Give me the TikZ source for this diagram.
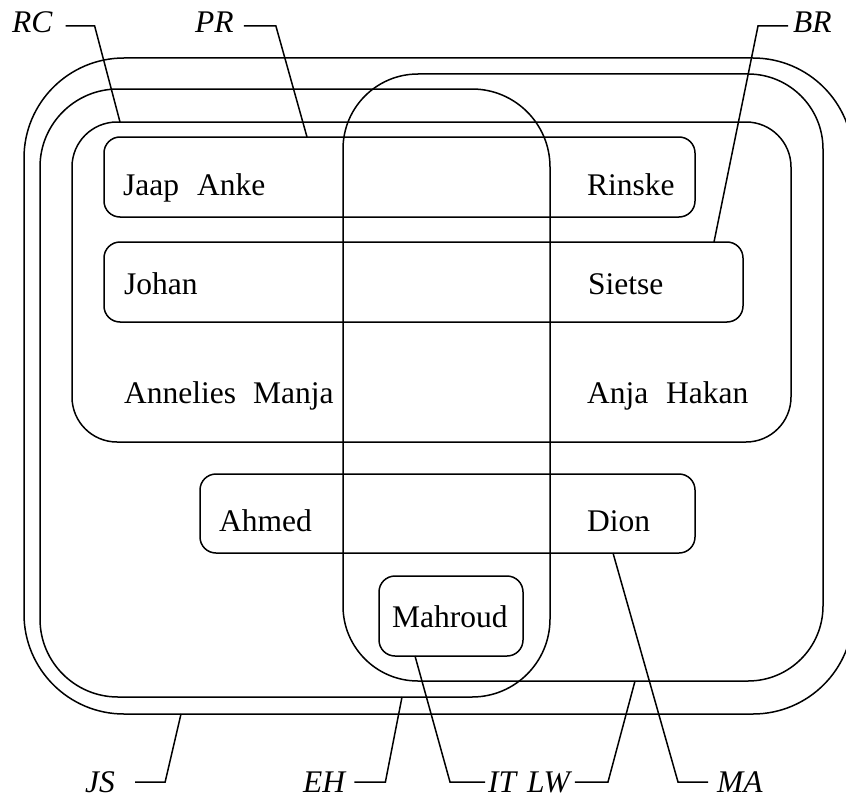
\documentclass[tikz,border=0pt]{standalone}
\usepackage{fontspec}
\setmainfont{Liberation Serif}
\usetikzlibrary{calc}

\begin{document}
\begin{tikzpicture}[x=1pt, y=-1pt,
  set/.style={draw, line width=1.5pt, inner sep=0pt, outer sep=0pt},
  elem/.style={anchor=base west, inner sep=0pt, font=\fontsize{31.5pt}{36pt}\selectfont},
  tag/.style={anchor=base west, inner sep=0pt, font=\fontsize{31.5pt}{36pt}\selectfont\itshape},
  lead/.style={line width=1.5pt}
]
  \useasboundingbox (0,0) rectangle (846,800);

  \node[set, rounded corners=100pt, minimum width=829pt, minimum height=656pt] (js) at (438.5,386) {};
  \node[set, rounded corners=78pt,  minimum width=510pt, minimum height=608pt] (eh) at (295,393)   {};
  \node[set, rounded corners=75pt,  minimum width=480pt, minimum height=607pt] (lw) at (583,377.5) {};
  \node[set, rounded corners=45pt,  minimum width=719pt, minimum height=320pt] (rc) at (431.5,282) {};
  \node[set, rounded corners=16pt,  minimum width=591pt, minimum height=80pt]  (pr) at (399.5,177) {};
  \node[set, rounded corners=16pt,  minimum width=639pt, minimum height=80pt]  (br) at (423.5,282) {};
  \node[set, rounded corners=16pt,  minimum width=495pt, minimum height=79pt]  (ma) at (447.5,513.5) {};
  \node[set, rounded corners=16pt,  minimum width=144pt, minimum height=80pt]  (it) at (451,616)   {};

  \node[elem] (jaap)     at (123,195) {Jaap};
  \node[elem] (anke)     at (197,195) {Anke};
  \node[elem] (rinske)   at (587,195) {Rinske};
  \node[elem] (johan)    at (124,294) {Johan};
  \node[elem] (sietse)   at (588,294) {Sietse};
  \node[elem] (annelies) at (124,403) {Annelies};
  \node[elem] (manja)    at (253,403) {Manja};
  \node[elem] (anja)     at (587,403) {Anja};
  \node[elem] (hakan)    at (666,403) {Hakan};
  \node[elem] (ahmed)    at (219,531) {Ahmed};
  \node[elem] (dion)     at (587,531) {Dion};
  \node[elem] (mahroud)  at (392,627) {Mahroud};

  \node[tag] (lrc) at (12,33)  {RC};
  \node[tag] (lpr) at (195,33) {PR};
  \node[tag] (lbr) at (793,33) {BR};
  \node[tag] (ljs) at (85,792)  {JS};
  \node[tag] (leh) at (303,792) {EH};
  \node[tag] (lit) at (488,792) {IT};
  \node[tag] (llw) at (527,792) {LW};
  \node[tag] (lma) at (717,792) {MA};

  \coordinate (rcpt) at ($(rc.north west)+(48,0)$);
  \coordinate (prpt) at ($(pr.north west)+(203,0)$);
  \coordinate (brpt) at ($(br.north east)+(-29,0)$);
  \coordinate (jspt) at ($(js.south west)+(157,0)$);
  \coordinate (ehpt) at ($(eh.south east)+(-148,0)$);
  \coordinate (itpt) at ($(it.south west)+(36,0)$);
  \coordinate (lwpt) at ($(lw.south west)+(292,0)$);
  \coordinate (mapt) at ($(ma.south west)+(413,0)$);

  \draw[lead] ([xshift=13pt,yshift=7pt]lrc.base east) -- ++(29,0) -- (rcpt);
  \draw[lead] ([xshift=10pt,yshift=7pt]lpr.base east) -- ++(32,0) -- (prpt);
  \draw[lead] ([xshift=-5pt,yshift=7pt]lbr.base west) -- ++(-30,0) -- (brpt);
  \draw[lead] ([xshift=20pt,yshift=10pt]ljs.base east) -- ++(30,0) -- (jspt);
  \draw[lead] ([xshift=9pt,yshift=10pt]leh.base east) -- ++(31,0) -- (ehpt);
  \draw[lead] ([xshift=-3pt,yshift=10pt]lit.base west) -- ++(-35,0) -- (itpt);
  \draw[lead] ([xshift=5pt,yshift=10pt]llw.base east) -- ++(33,0) -- (lwpt);
  \draw[lead] ([xshift=-9pt,yshift=10pt]lma.base west) -- ++(-30,0) -- (mapt);
\end{tikzpicture}
\end{document}
